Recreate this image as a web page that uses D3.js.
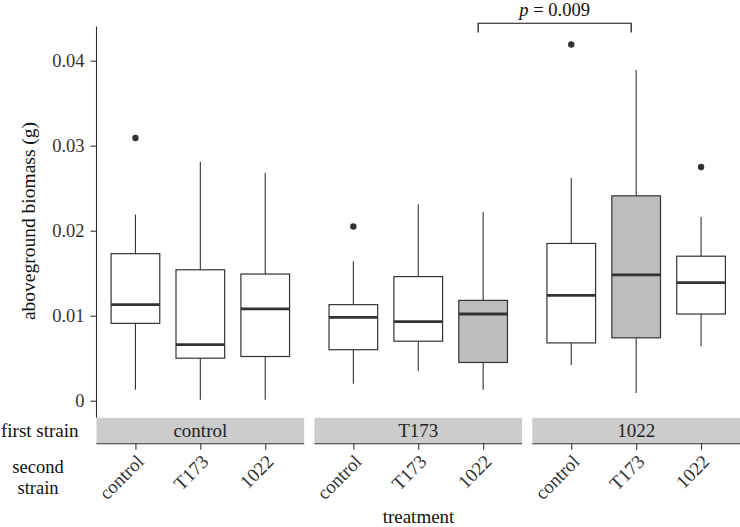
<!DOCTYPE html>
<html><head><meta charset="utf-8">
<script src="https://cdn.jsdelivr.net/npm/d3@7"></script>
<style>body{margin:0;background:#fff}svg{display:block}text{font-family:"Liberation Serif","DejaVu Serif",serif}</style>
</head><body><svg id="c" width="740" height="527"></svg>
<script>
const firstStrain = ["control", "T173", "1022"];
const secondStrain = ["control", "T173", "1022"];
// order: first strain outer, second strain inner
const lowerWhisker = [0.0013, 0.0001, 0.0001, 0.0020, 0.0035, 0.0013, 0.0042, 0.0009, 0.0064];
const q1 =           [0.0091, 0.0050, 0.0052, 0.0060, 0.0070, 0.0045, 0.0068, 0.0074, 0.0102];
const median =       [0.0113, 0.0066, 0.0108, 0.0098, 0.0093, 0.0102, 0.0124, 0.0148, 0.0139];
const q3 =           [0.0173, 0.0154, 0.0149, 0.0113, 0.0146, 0.0118, 0.0185, 0.0241, 0.0170];
const upperWhisker = [0.0219, 0.0281, 0.0268, 0.0164, 0.0231, 0.0222, 0.0262, 0.0389, 0.0216];
const outliers = [[0.0309], [], [], [0.0205], [], [], [0.0419], [], [0.0275]];
const highlighted = [false, false, false, false, false, true, false, true, false];
const yTicks = [0, 0.01, 0.02, 0.03, 0.04];
const yTickLabels = ["0", "0.01", "0.02", "0.03", "0.04"];
const bracket = {from: ["T173", "1022"], to: ["1022", "T173"], y: 0.0444, tickY: 0.0433, label: "0.009"};

const FONT = '"Liberation Serif", "DejaVu Serif", serif';
const svg = d3.select("#c");
const ink = "#333333";
const panelTop = 26.5, panelBottom = 417.8;
const stripH = 26;
const y = d3.scaleLinear().domain([-0.00201, 0.04402]).range([panelBottom, panelTop]);
const facet = d3.scaleBand().domain(firstStrain).range([96.5, 740]).paddingInner(0.047);
const xIn = d3.scalePoint().domain(secondStrain).range([0, facet.bandwidth()]).padding(0.6);
const boxW = xIn.step() * 0.75;
const X = (f, s) => facet(f) + xIn(s);

// y axis
const yAxis = d3.axisLeft(y).tickValues(yTicks).tickFormat((d, i) => yTickLabels[i]).tickSize(6).tickPadding(6);
const gy = svg.append("g").attr("transform", `translate(${facet.range()[0]},0)`).call(yAxis);
gy.attr("font-family", FONT);
gy.select(".domain").attr("d", `M0,${panelTop}V${panelBottom}`).attr("stroke", ink).attr("stroke-width", 1.1);
gy.selectAll(".tick line").attr("stroke", ink).attr("stroke-width", 1.1);
gy.selectAll(".tick text").attr("font-size", 18.5).attr("fill", ink);

// panels
firstStrain.forEach((f, fi) => {
  const px = facet(f);
  const g = svg.append("g").attr("transform", `translate(${px},0)`);
  g.append("rect").attr("x", 0).attr("y", panelBottom).attr("width", facet.bandwidth()).attr("height", stripH).attr("fill", "#cccccc");
  g.append("text").attr("x", facet.bandwidth() / 2).attr("y", panelBottom + stripH / 2 + 6)
    .attr("text-anchor", "middle").attr("font-size", 19).attr("fill", "#222").text(f);
  const xAxis = d3.axisBottom(xIn).tickSize(6).tickPadding(3);
  const gx = g.append("g").attr("transform", `translate(0,${panelBottom + stripH})`).call(xAxis);
  gx.attr("font-family", FONT);
  gx.select(".domain").attr("d", `M0,0H${facet.bandwidth()}`).attr("stroke", ink).attr("stroke-width", 1.1);
  gx.selectAll(".tick line").attr("stroke", ink).attr("stroke-width", 1.1);
  gx.selectAll(".tick text").attr("font-size", 19).attr("fill", ink)
    .attr("text-anchor", "end").attr("dy", null).attr("y", null)
    .attr("transform", "translate(9,19) rotate(-45)");
  secondStrain.forEach((s, si) => {
    const i = fi * 3 + si;
    const cx = xIn(s);
    const bg = g.append("g");
    bg.append("line").attr("x1", cx).attr("x2", cx).attr("y1", y(q3[i])).attr("y2", y(upperWhisker[i])).attr("stroke", ink).attr("stroke-width", 1.1);
    bg.append("line").attr("x1", cx).attr("x2", cx).attr("y1", y(q1[i])).attr("y2", y(lowerWhisker[i])).attr("stroke", ink).attr("stroke-width", 1.1);
    bg.append("rect").attr("x", cx - boxW / 2).attr("width", boxW).attr("y", y(q3[i])).attr("height", y(q1[i]) - y(q3[i]))
      .attr("fill", highlighted[i] ? "#bebebe" : "#ffffff").attr("stroke", ink).attr("stroke-width", 1.2);
    bg.append("line").attr("x1", cx - boxW / 2).attr("x2", cx + boxW / 2).attr("y1", y(median[i])).attr("y2", y(median[i])).attr("stroke", ink).attr("stroke-width", 2.8);
    bg.selectAll("circle").data(outliers[i]).join("circle").attr("cx", cx).attr("cy", d => y(d)).attr("r", 3.2).attr("fill", ink);
  });
});

svg.append("text").attr("x", 1).attr("y", 437).attr("text-anchor", "start").attr("font-size", 19).attr("fill", "#111").text("first strain");
const ss = svg.append("text").attr("text-anchor", "middle").attr("font-size", 18.5).attr("fill", "#111");
ss.append("tspan").attr("x", 38).attr("y", 473).text("second");
ss.append("tspan").attr("x", 38).attr("y", 493.5).text("strain");
svg.append("text").attr("x", 418.5).attr("y", 523).attr("text-anchor", "middle").attr("font-size", 19).attr("fill", "#111").text("treatment");
svg.append("text").attr("transform", `translate(35,221) rotate(-90)`).attr("text-anchor", "middle").attr("font-size", 19.5).attr("fill", "#111").text("aboveground biomass (g)");

const shift = -5;
const bx1 = X(bracket.from[0], bracket.from[1]) + shift;
const bx2 = X(bracket.to[0], bracket.to[1]) + shift;
svg.append("path").attr("d", `M${bx1},${y(bracket.tickY)}V${y(bracket.y)}H${bx2}V${y(bracket.tickY)}`)
  .attr("fill", "none").attr("stroke", "#111").attr("stroke-width", 1.2);
const pt = svg.append("text").attr("x", (bx1 + bx2) / 2).attr("y", 15.7).attr("text-anchor", "middle").attr("font-size", 18.5).attr("fill", "#111");
pt.append("tspan").attr("font-style", "italic").text("p");
pt.append("tspan").text(" = " + bracket.label);
</script></body></html>
